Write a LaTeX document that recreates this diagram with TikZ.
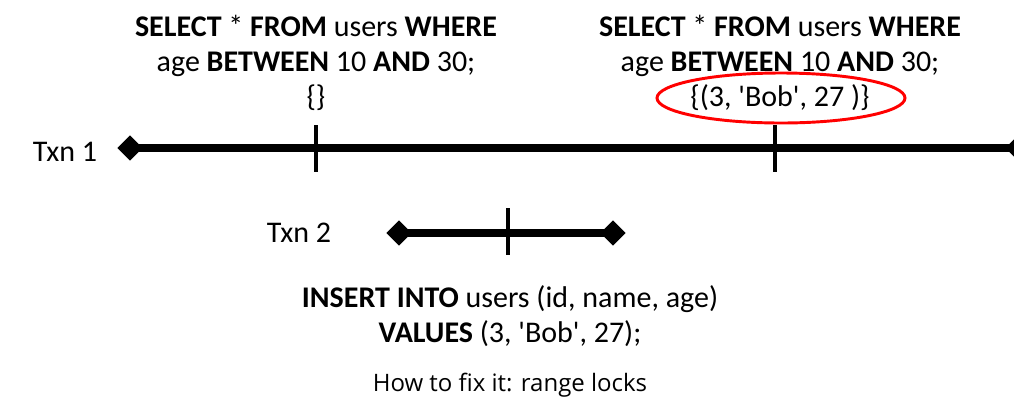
\documentclass[tikz,border=0pt]{standalone}
\usepackage{fontspec}
\setmainfont{Carlito}
\newfontfamily\notefont{Open Sans}
\usetikzlibrary{shapes.geometric, calc}

\begin{document}
\begin{tikzpicture}[x=0.75pt, y=-0.75pt,
    txnline/.style={line width=6pt},
    tickline/.style={line width=3pt},
    endpt/.style={diamond, fill=black, inner sep=0pt, minimum width=19pt, minimum height=19pt},
    query/.style={align=center, font=\fontsize{22.5}{26.3}\selectfont},
    label/.style={font=\fontsize{22.5}{26.3}\selectfont}]
    \useasboundingbox (0,0) rectangle (1014,401);

    % Txn 1
    \node[label] (txn1) at (65,152) {Txn 1};
    \node[endpt] (t1start) at (130,148) {};
    \node[endpt] (t1end) at (1018,148) {};
    \draw[txnline] (t1start.center) -- (t1end.center);
    \coordinate (read1) at (316,148);
    \coordinate (read2) at (775,148);
    \draw[tickline] ($(read1)+(0,-23)$) -- ($(read1)+(0,24)$);
    \draw[tickline] ($(read2)+(0,-23)$) -- ($(read2)+(0,24)$);

    % Txn 2
    \node[label] (txn2) at (299,233) {Txn 2};
    \node[endpt] (t2start) at (399,233) {};
    \node[endpt] (t2end) at (613,233) {};
    \draw[txnline] (t2start.center) -- (t2end.center);
    \coordinate (write) at (508,233);
    \draw[tickline] ($(write)+(0,-25)$) -- ($(write)+(0,22)$);

    % queries
    \node[query] (sel1) at (316,63) {\textbf{SELECT} * \textbf{FROM} users \textbf{WHERE}\\
        age \textbf{BETWEEN} 10 \textbf{AND} 30;\\ \{\}};
    \node[query] (sel2) at (780,63) {\textbf{SELECT} * \textbf{FROM} users \textbf{WHERE}\\
        age \textbf{BETWEEN} 10 \textbf{AND} 30;\\
        \{(3, \textquotesingle Bob\textquotesingle, 27 )\}};
    \draw[red, line width=2.2pt] (781,98) ellipse [x radius=124, y radius=25];
    \node[query] (ins) at (510,316) {\textbf{INSERT INTO} users (id, name, age)\\
        \textbf{VALUES} (3, \textquotesingle Bob\textquotesingle, 27);};
    \node[font=\notefont\fontsize{18}{22}\selectfont] (fix) at (510,385) {How to fix it: range locks};
\end{tikzpicture}
\end{document}
